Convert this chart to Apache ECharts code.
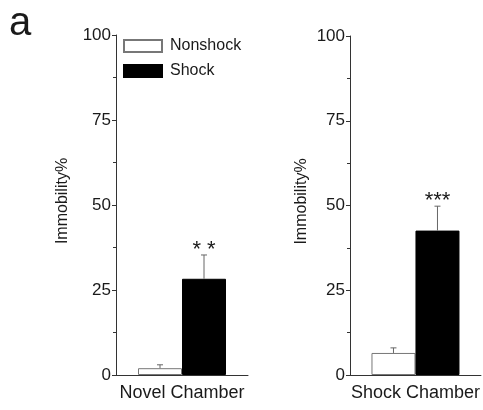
<!DOCTYPE html>
<html><head><meta charset="utf-8">
<script src="https://cdn.jsdelivr.net/npm/echarts@6/dist/echarts.min.js"></script>
<style>html,body{margin:0;padding:0;background:#fff}#c{width:483px;height:410px}</style>
</head><body><div id="c"></div>
<script>
const categories = ['Novel Chamber', 'Shock Chamber'];
const seriesNames = ['Nonshock', 'Shock'];
const nonshockMean = [2.0, 6.5];
const nonshockErr = [1.0, 1.5];
const shockMean = [28.3, 42.6];
const shockErr = [7.0, 7.2];
const stars = ['* *', '***'];
const yTicks = [0, 25, 50, 75, 100];

const FONT = 'Arial, "Liberation Sans", sans-serif';
const TXT = '#1a1a1a';
const AX = '#333';
const BW = 44;

const chart = echarts.init(document.getElementById('c'));

function yAxisFor(gi, gap) {
  return {
    type: 'value', gridIndex: gi, min: yTicks[0], max: yTicks[yTicks.length - 1], interval: 25,
    name: 'Immobility%', nameLocation: 'middle', nameGap: gap,
    nameTextStyle: { fontSize: 16, color: TXT, fontFamily: FONT, padding: [0, 0, 0, 8] },
    axisLine: { show: true, lineStyle: { color: AX, width: 1 } },
    axisTick: { show: true, inside: false, length: 4, lineStyle: { color: AX } },
    minorTick: { show: true, splitNumber: 2, length: 3, lineStyle: { color: AX } },
    splitLine: { show: false },
    axisLabel: { fontSize: 17, color: TXT, fontFamily: FONT, margin: 5 }
  };
}
function xAxisFor(gi) {
  return {
    type: 'category', gridIndex: gi, data: [categories[gi]],
    axisLine: { show: true, onZero: false, lineStyle: { color: AX, width: 1 } },
    axisTick: { show: false },
    axisLabel: { fontSize: 18, color: TXT, fontFamily: FONT, margin: 9 }
  };
}

const series = [];
for (let gi = 0; gi < 2; gi++) {
  series.push({
    name: seriesNames[0], type: 'bar', xAxisIndex: gi, yAxisIndex: gi,
    data: [nonshockMean[gi]], barWidth: BW, barGap: 0,
    itemStyle: { color: '#fff', borderColor: '#777', borderWidth: 1 }
  });
  series.push({
    name: seriesNames[1], type: 'bar', xAxisIndex: gi, yAxisIndex: gi,
    data: [shockMean[gi]], barWidth: BW, barGap: 0,
    itemStyle: { color: '#000', borderColor: '#000', borderWidth: 1 }
  });
  series.push({
    type: 'custom', xAxisIndex: gi, yAxisIndex: gi, silent: true, z: 5,
    data: [[0, nonshockMean[gi], nonshockErr[gi], -1], [0, shockMean[gi], shockErr[gi], 1]],
    renderItem: function (params, api) {
      const mean = api.value(1), err = api.value(2), side = api.value(3);
      const label = params.dataIndex === 1 ? stars[gi] : '';
      const base = api.coord([0, mean]);
      const top = api.coord([0, mean + err]);
      const x = base[0] + side * BW / 2;
      const children = [
        { type: 'line', shape: { x1: x, y1: base[1], x2: x, y2: top[1] }, style: { stroke: '#666', lineWidth: 1 } },
        { type: 'line', shape: { x1: x - 3, y1: top[1], x2: x + 3, y2: top[1] }, style: { stroke: '#666', lineWidth: 1 } }
      ];
      if (label) {
        children.push({ type: 'text', style: { text: label, x: x, y: top[1] - 5, align: 'center', verticalAlign: 'middle', fontSize: 22, fontFamily: FONT, fill: TXT } });
      }
      return { type: 'group', children: children };
    }
  });
}

chart.setOption({
  animation: false,
  backgroundColor: '#fff',
  textStyle: { fontFamily: FONT },
  graphic: [{ type: 'text', left: 9, top: 4, style: { text: 'a', fontSize: 40, fontFamily: FONT, fill: TXT } }],
  legend: {
    data: seriesNames, orient: 'vertical', left: 118, top: 33, icon: 'rect',
    itemWidth: 38, itemHeight: 12, itemGap: 9,
    textStyle: { fontSize: 16, color: TXT, fontFamily: FONT, padding: [0, 0, 0, 3] }
  },
  grid: [
    { left: 116, right: 235, top: 35, bottom: 35 },
    { left: 350, right: -2, top: 36, bottom: 35 }
  ],
  xAxis: [xAxisFor(0), xAxisFor(1)],
  yAxis: [yAxisFor(0, 45), yAxisFor(1, 40)],
  series: series
});
</script></body></html>
